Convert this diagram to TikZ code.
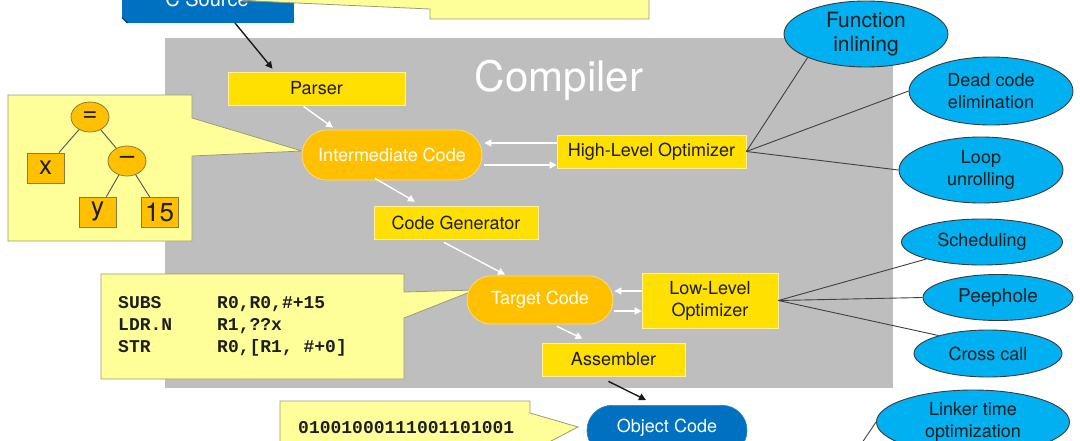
\documentclass[tikz,border=0pt]{standalone}
\usepackage{fontspec}
\setmainfont{TeX Gyre Heros}
\newfontfamily\codefont{Liberation Mono}
\usetikzlibrary{shapes.geometric,arrows.meta,calc}
\definecolor{boxyel}{HTML}{FFE000}
\definecolor{boxyelline}{HTML}{FFF19A}
\definecolor{stadora}{HTML}{FFC000}
\definecolor{stadline}{HTML}{FFDD80}
\definecolor{darkblue}{HTML}{0070C0}
\definecolor{ellblue}{HTML}{00B0F0}
\definecolor{ellline}{HTML}{3A3A3A}
\definecolor{callyel}{HTML}{FFFF99}
\definecolor{callline}{HTML}{9A9A7A}
\definecolor{graybg}{HTML}{BEBEBE}
\definecolor{txt}{HTML}{1E1E1E}
\definecolor{linkgray}{HTML}{404040}
\definecolor{treeline}{HTML}{8C7A40}
\tikzset{
  ybox/.style={rectangle, fill=boxyel, draw=boxyelline, line width=0.7pt, inner sep=0pt, text=txt, font=\fontsize{18}{22}\selectfont, align=center},
  stad/.style={rectangle, fill=stadora, draw=stadline, line width=0.7pt, inner sep=0pt, text=white, font=\fontsize{18}{22}\selectfont},
  bluestad/.style={rectangle, fill=darkblue, draw=darkblue!85!white, line width=0.7pt, inner sep=0pt, text=white, font=\fontsize{18}{22}\selectfont},
  oval/.style={ellipse, fill=ellblue, draw=ellline, line width=0.9pt, inner sep=0pt, text=txt, align=center, font=\fontsize{18}{22}\selectfont},
  callout/.style={fill=callyel, draw=callline, line width=0.8pt},
  whitearrow/.style={draw=white, line width=1.4pt, -{Triangle[length=7pt,width=7pt]}},
  blackarrow/.style={draw=black!90, line width=1.4pt, -{Triangle[length=7pt,width=7pt]}},
  link/.style={draw=linkgray, line width=0.9pt},
  treeov/.style={ellipse, fill=stadora, draw=treeline, line width=0.8pt, minimum width=38pt, minimum height=30pt, inner sep=0pt, text=txt, font=\fontsize{26}{26}\selectfont},
  treebox/.style={rectangle, fill=stadora, draw=treeline, line width=0.8pt, minimum width=37pt, minimum height=30pt, inner sep=0pt, text=txt, font=\fontsize{26}{26}\selectfont},
  treeline/.style={draw=linkgray!90, line width=0.9pt},
  codetxt/.style={inner sep=0pt, text=txt, font=\codefont\bfseries\fontsize{18}{22}\selectfont}
}
\begin{document}
\begin{tikzpicture}[x=1pt,y=-1pt]
\useasboundingbox (0,0) rectangle (1080,440);
\clip (0,0) rectangle (1080,440);

% compiler area
\fill[graybg] (165,38) rectangle (893,388);
\node[text=white, font=\fontsize{42}{42}\selectfont, inner sep=0pt] (title) at (559,80) {Compiler};

% C Source
\node[fill=darkblue, minimum width=172pt, minimum height=70pt, inner sep=0pt, anchor=south] (csrc) at (208,23) {};
\fill[white] (121,17) -- (121,24) -- (128,24) -- cycle;
\draw[darkblue!60!black, line width=1.2pt] (122,17.5) -- (127.5,23);
\node[text=white, font=\fontsize{20}{20}\selectfont, inner sep=0pt, anchor=base] (csrclbl) at (207,6) {C Source};

% top callout
\draw[callout] (430,-30) -- (649,-30) -- (649,19) -- (430,19) -- (430,9) -- (242,0.5) -- (430,-12) -- cycle;

% tree callout
\draw[callout] (8,95) -- (192,95) -- (192,118) -- (302,151) -- (192,156) -- (192,241) -- (8,241) -- cycle;
% code callout
\draw[callout] (101,274) -- (404,274) -- (404,292) -- (475,290) -- (404,318) -- (404,379) -- (101,379) -- cycle;
% binary callout
\draw[callout] (280,401) -- (530,401) -- (530,413) -- (578,427) -- (530,452) -- (530,470) -- (280,470) -- cycle;

% tree
\node[treeov] (eq) at (90,117) {=};
\node[treeov] (minus) at (127,161) {\raisebox{2pt}{–}};
\node[treebox] (xb) at (45.5,168) {x};
\node[treebox] (yb) at (97.5,212) {y};
\node[treebox] (fb) at (159.5,212.5) {15};
\draw[treeline] (eq) -- (xb);
\draw[treeline] (eq) -- (minus);
\draw[treeline] (minus) -- (yb);
\draw[treeline] (minus) -- (fb);

% code text
\node[codetxt, anchor=base west] (c1) at (118,308) {\makebox[99pt][l]{SUBS}R0,R0,\#+15};
\node[codetxt, anchor=base west] (c2) at (118,330) {\makebox[99pt][l]{LDR.N}R1,??x};
\node[codetxt, anchor=base west] (c3) at (118,352) {\makebox[99pt][l]{STR}R0,[R1, \#+0]};
\node[codetxt, anchor=base west] (bin) at (298,433) {01001000111001101001};

% pipeline nodes
\node[ybox, minimum width=177pt, minimum height=33pt] (parser) at (316.5,88.5) {Parser};
\node[stad, minimum width=180pt, minimum height=50pt, rounded corners=25pt] (ic) at (392,155) {Intermediate Code};
\node[ybox, minimum width=189pt, minimum height=33pt] (hlo) at (651.5,151.5) {High-Level Optimizer};
\node[ybox, minimum width=164pt, minimum height=33pt] (cg) at (456,222.5) {Code Generator};
\node[stad, minimum width=146pt, minimum height=48pt, rounded corners=24pt] (tc) at (540,300) {Target Code};
\node[ybox, minimum width=136pt, minimum height=55pt, font=\fontsize{18}{22}\selectfont] (llo) at (710,300.5) {Low-Level\\Optimizer};
\node[ybox, minimum width=143pt, minimum height=33pt] (asm) at (613.5,359.5) {Assembler};
\node[bluestad, minimum width=160pt, minimum height=50pt, rounded corners=25pt, anchor=north] (obj) at (667,405) {};
\node[text=white, font=\fontsize{18}{22}\selectfont, inner sep=0pt] (objlbl) at (667,428) {Object Code};

% ellipses
\node[oval, minimum width=164pt, minimum height=66pt, font=\fontsize{21}{24}\selectfont] (fi) at (866,34) {Function\\inlining};
\node[oval, minimum width=164pt, minimum height=68pt] (dce) at (991,91) {Dead code\\elimination};
\node[oval, minimum width=164pt, minimum height=66pt] (lu) at (981,170) {Loop\\unrolling};
\node[oval, minimum width=161pt, minimum height=46pt] (sch) at (982,242) {Scheduling};
\node[oval, minimum width=150pt, minimum height=46pt, font=\fontsize{19}{22}\selectfont] (pp) at (998,297.5) {Peephole};
\node[oval, minimum width=148pt, minimum height=47pt] (cc) at (988,353.5) {Cross call};
\node[oval, minimum width=193pt, minimum height=64pt] (lto) at (973,422) {Linker time\\optimization};
\coordinate (ltoend) at (845,468);

% connectors
\draw[blackarrow] ($(csrc.south)+(27,0)$) -- ($(parser.north)+(-44,-3)$);
\draw[whitearrow] ($(parser.south)+(-13,1)$) -- ($(ic.north)+(-59,-2)$);
\draw[whitearrow] ($(ic.south)+(-17,-2)$) -- ($(cg.north)+(-41,-4)$);
\draw[whitearrow] ($(hlo.west)+(0,-8.5)$) -- ($(ic.east)+(2,-12)$);
\draw[whitearrow] ($(ic.east)+(2,10)$) -- ($(hlo.west)+(0,13.5)$);
\draw[whitearrow] ($(cg.south)+(-12,3)$) -- ($(tc.north)+(-35,-1)$);
\draw[whitearrow] ($(llo.west)+(0,-9.5)$) -- ($(tc.east)+(1,-9)$);
\draw[whitearrow] ($(tc.east)+(1,11)$) -- ($(llo.west)+(0,10.5)$);
\draw[whitearrow] ($(tc.south)+(17,2)$) -- ($(asm.north)+(-31,-4)$);
\draw[blackarrow] ($(asm.south)+(-5,5)$) -- ($(obj.north)+(-21,-5)$);

\draw[link] (hlo.east) -- (fi.202);
\draw[link] (hlo.east) -- (dce.west);
\draw[link] (hlo.east) -- (lu.west);
\draw[link] (llo.east) -- (sch.197);
\draw[link] (llo.east) -- (pp.west);
\draw[link] (llo.east) -- (cc.160);
\draw[link] (lto.west) -- (ltoend);
\end{tikzpicture}
\end{document}
